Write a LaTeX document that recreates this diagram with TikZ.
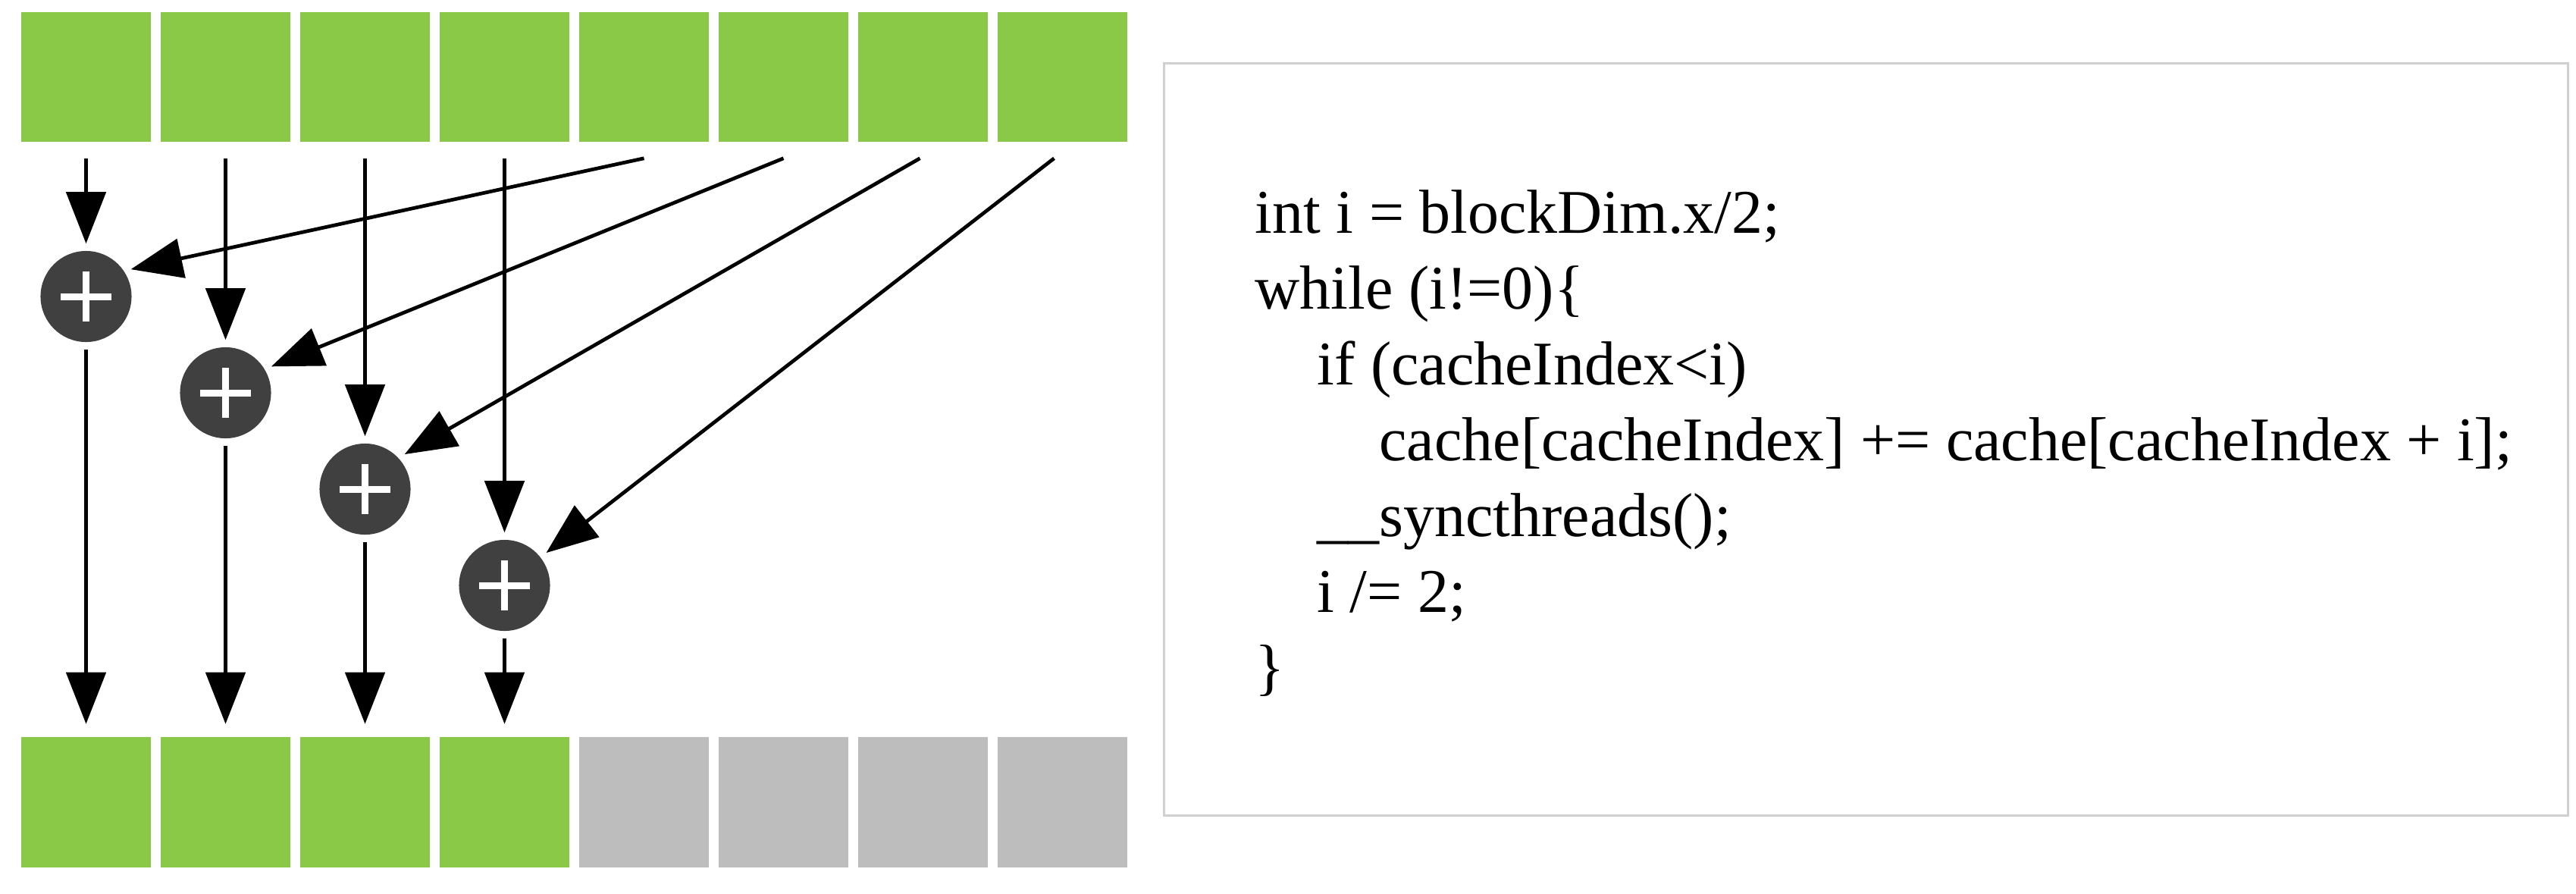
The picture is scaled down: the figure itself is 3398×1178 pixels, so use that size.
\documentclass[tikz,border=0pt]{standalone}
\usepackage{fontspec}
\setmainfont{Liberation Serif}
\usetikzlibrary{arrows.meta}
\definecolor{cellgreen}{RGB}{138,201,72}
\definecolor{cellgray}{RGB}{189,189,189}
\definecolor{addgray}{RGB}{64,64,64}
\definecolor{boxgray}{RGB}{208,208,208}
\begin{document}
\begin{tikzpicture}[x=0.01cm,y=-0.01cm,
 cell/.style={minimum width=1.71cm,minimum height=1.71cm,inner sep=0pt},
 adder/.style={circle,fill=addgray,minimum size=1.2cm,inner sep=0pt},
 arr/.style={line width=1.35pt,-{Triangle[length=0.68cm,width=0.52cm]}},
 codeline/.style={anchor=base west,inner sep=0pt,font=\fontsize{23.3pt}{28.4pt}\selectfont}]
 \useasboundingbox (0,0) rectangle (3398,1178);
 % input row, output row
 \foreach \i in {1,...,8}{\node[cell,fill=cellgreen] (t\i) at ({113.5+184*(\i-1)},101.5) {};}
 \foreach \i in {1,...,4}{\node[cell,fill=cellgreen] (b\i) at ({113.5+184*(\i-1)},1058) {};}
 \foreach \i in {5,...,8}{\node[cell,fill=cellgray] (b\i) at ({113.5+184*(\i-1)},1058) {};}
 % adders
 \foreach \i in {1,...,4}{\node[adder] (p\i) at ({113.5+184*(\i-1)},{391+127*(\i-1)}) {};
  \draw[white,line width=0.09cm] ([xshift=-0.33cm]p\i.center) -- ([xshift=0.33cm]p\i.center)
   ([yshift=-0.33cm]p\i.center) -- ([yshift=0.33cm]p\i.center);}
 \foreach \i/\dx/\ang [evaluate=\i as \j using int(\i+4)] in {1/0/34,2/0/31,3/-0.04/43,4/-0.11/38}{
  \draw[arr,shorten <=0.21cm,shorten >=0.09cm] (t\i) -- (p\i);
  \draw[arr,shorten <=0.09cm,shorten >=0.17cm] (p\i) -- (b\i);
  \draw[arr,shorten >=0.09cm] ([xshift=\dx cm,yshift=-0.21cm]t\j.south) -- (p\i.\ang);}
 % code
 \node[draw=boxgray,line width=0.025cm,minimum width=18.51cm,minimum height=9.91cm,inner sep=0pt] (box) at (2461.5,579.5) {};
 \node[codeline] (l1) at (1655,307) {int i = blockDim.x/2;};
 \node[codeline] (l2) at (1655,407) {while (i!=0)\{};
 \node[codeline] (l3) at (1655,507) {\hspace*{1em}if (cacheIndex<i)};
 \node[codeline] (l4) at (1655,607) {\hspace*{2em}cache[cacheIndex] += cache[cacheIndex + i];};
 \node[codeline] (l5) at (1655,707) {\hspace*{1em}\_\_syncthreads();};
 \node[codeline] (l6) at (1655,807) {\hspace*{1em}i /= 2;};
 \node[codeline] (l7) at (1655,907) {\}};
\end{tikzpicture}
\end{document}
